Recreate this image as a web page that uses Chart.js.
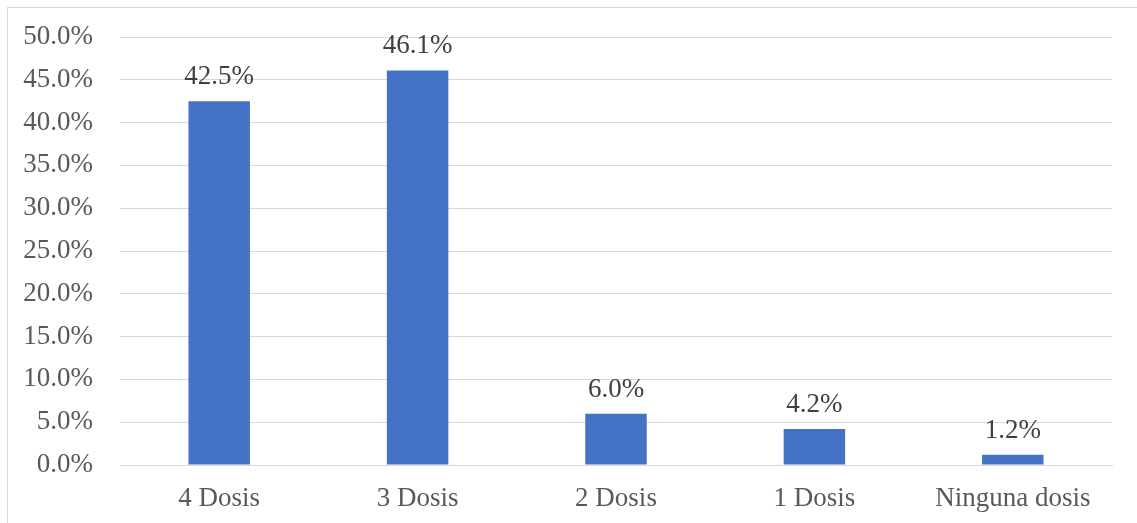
<!DOCTYPE html>
<html>
<head>
<meta charset="utf-8">
<script src="https://cdn.jsdelivr.net/npm/chart.js@4"></script>
<style>
  html, body { margin: 0; padding: 0; background: #ffffff; }
  #wrap { position: relative; width: 1137px; height: 523px; overflow: hidden; }
  #frame { position: absolute; left: 7px; top: 7px; width: 1140px; height: 530px;
           border-left: 1px solid #d9d9d9; border-top: 1px solid #d9d9d9; box-sizing: border-box; }
  canvas { position: absolute; left: 0; top: 0; }
</style>
</head>
<body>
<div id="wrap">
  <div id="frame"></div>
  <canvas id="c" width="1137" height="523"></canvas>
</div>
<script>
const categories = ["4 Dosis", "3 Dosis", "2 Dosis", "1 Dosis", "Ninguna dosis"];
const values = [42.5, 46.1, 6.0, 4.2, 1.2];
const yTickMin = 0, yTickMax = 50, yTickStep = 5;

const FONT = "'Liberation Serif', 'Times New Roman', serif";

const dataLabels = {
  id: 'dataLabels',
  afterDatasetsDraw(chart) {
    const ctx = chart.ctx;
    const meta = chart.getDatasetMeta(0);
    ctx.save();
    ctx.font = "27px " + FONT;
    ctx.fillStyle = "#404040";
    ctx.textAlign = "center";
    ctx.textBaseline = "alphabetic";
    meta.data.forEach((bar, i) => {
      ctx.fillText(values[i].toFixed(1) + "%", bar.x, bar.y - 17);
    });
    ctx.restore();
  }
};

new Chart(document.getElementById('c'), {
  type: 'bar',
  data: {
    labels: categories,
    datasets: [{
      data: values,
      backgroundColor: '#4472C4',
      borderWidth: 0,
      barPercentage: 0.31,
      categoryPercentage: 1.0
    }]
  },
  options: {
    responsive: false,
    animation: false,
    devicePixelRatio: 1,
    layout: { padding: { left: 0, right: 25, top: 37, bottom: 0 } },
    plugins: { legend: { display: false }, tooltip: { enabled: false } },
    scales: {
      y: {
        min: yTickMin, max: yTickMax,
        afterFit: (s) => { s.width = 120; s.paddingTop = 0; s.paddingBottom = 0; },
        ticks: {
          stepSize: yTickStep,
          padding: 27,
          color: '#595959',
          font: { family: FONT, size: 27 },
          callback: (v) => Number(v).toFixed(1) + '%'
        },
        grid: { color: '#d9d9d9', lineWidth: 1, drawTicks: false },
        border: { display: false }
      },
      x: {
        afterFit: (s) => { s.height = 58; s.paddingLeft = 0; s.paddingRight = 0; },
        ticks: {
          padding: 18,
          color: '#595959',
          font: { family: FONT, size: 27 },
          maxRotation: 0, autoSkip: false
        },
        grid: { display: false, drawTicks: false },
        border: { display: true, color: '#d9d9d9', width: 1 }
      }
    }
  },
  plugins: [dataLabels]
});
</script>
</body>
</html>
